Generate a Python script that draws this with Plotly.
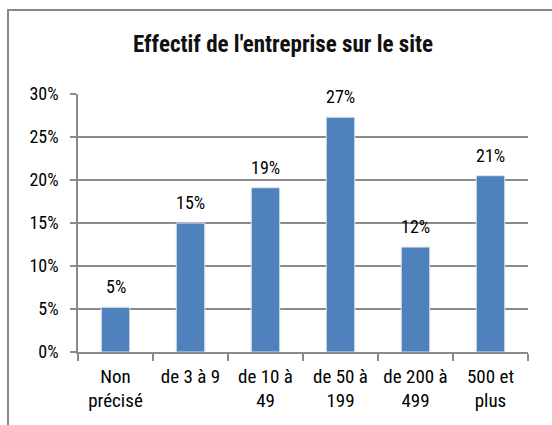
import plotly.graph_objects as go

categories = ["Non<br>précisé", "de 3 à 9", "de 10 à<br>49", "de 50 à<br>199", "de 200 à<br>499", "500 et<br>plus"]
values = [5.2, 15.0, 19.1, 27.3, 12.2, 20.5]
labels = ["5%", "15%", "19%", "27%", "12%", "21%"]
y_ticks = [0, 5, 10, 15, 20, 25, 30]
y_tick_labels = ["0%", "5%", "10%", "15%", "20%", "25%", "30%"]

FONT = "Roboto Condensed, Liberation Sans Narrow, Arial Narrow, sans-serif"
GRID = "#8A8A8A"

fig = go.Figure(
    go.Bar(
        x=categories,
        y=values,
        width=0.38,
        marker=dict(color="#4F81BD", line=dict(color="#DDE3EC", width=1)),
        hoverinfo="x+y",
    )
)

# data labels above the bars
for cat, val, lab in zip(categories, values, labels):
    fig.add_annotation(
        x=cat, y=val, text=lab, showarrow=False,
        yanchor="bottom", yshift=8,
        font=dict(family=FONT, size=18, color="#000000"),
    )

# title
fig.add_annotation(
    text="<b>Effectif de l'entreprise sur le site</b>",
    xref="paper", yref="paper", x=0.4556, y=1.19, yanchor="middle",
    showarrow=False, font=dict(family=FONT, size=23, color="#111111"),
)

# chart frame (runs off the right and bottom edges)
fig.add_shape(
    type="rect", xref="paper", yref="paper",
    x0=-0.1556, y0=-0.40, x1=1.2, y1=1.3256,
    line=dict(color="#888888", width=2), layer="below",
)

fig.update_layout(
    width=552,
    height=425,
    margin=dict(l=78, r=24, t=94, b=73),
    paper_bgcolor="white",
    plot_bgcolor="white",
    showlegend=False,
    font=dict(family=FONT, size=18, color="#000000"),
    xaxis=dict(
        showline=True, linecolor=GRID, linewidth=1.5, automargin=False, tickangle=0,
        ticks="outside", tickson="boundaries", ticklen=7, tickcolor=GRID, tickwidth=1.5,
        ticklabelstandoff=6,
        showgrid=False, tickfont=dict(family=FONT, size=19),
    ),
    yaxis=dict(
        range=[0, 30], tickvals=y_ticks, ticktext=y_tick_labels, automargin=False,
        showline=True, linecolor=GRID, linewidth=1.5,
        ticks="outside", ticklen=6, tickcolor=GRID, tickwidth=1.5,
        ticklabelstandoff=8,
        showgrid=True, gridcolor=GRID, gridwidth=1.5, zeroline=False,
        tickfont=dict(family=FONT, size=18),
    ),
)

fig.write_html(
    "out.html",
    config={"displayModeBar": False},
    post_script="document.body.style.margin='0';",
)
